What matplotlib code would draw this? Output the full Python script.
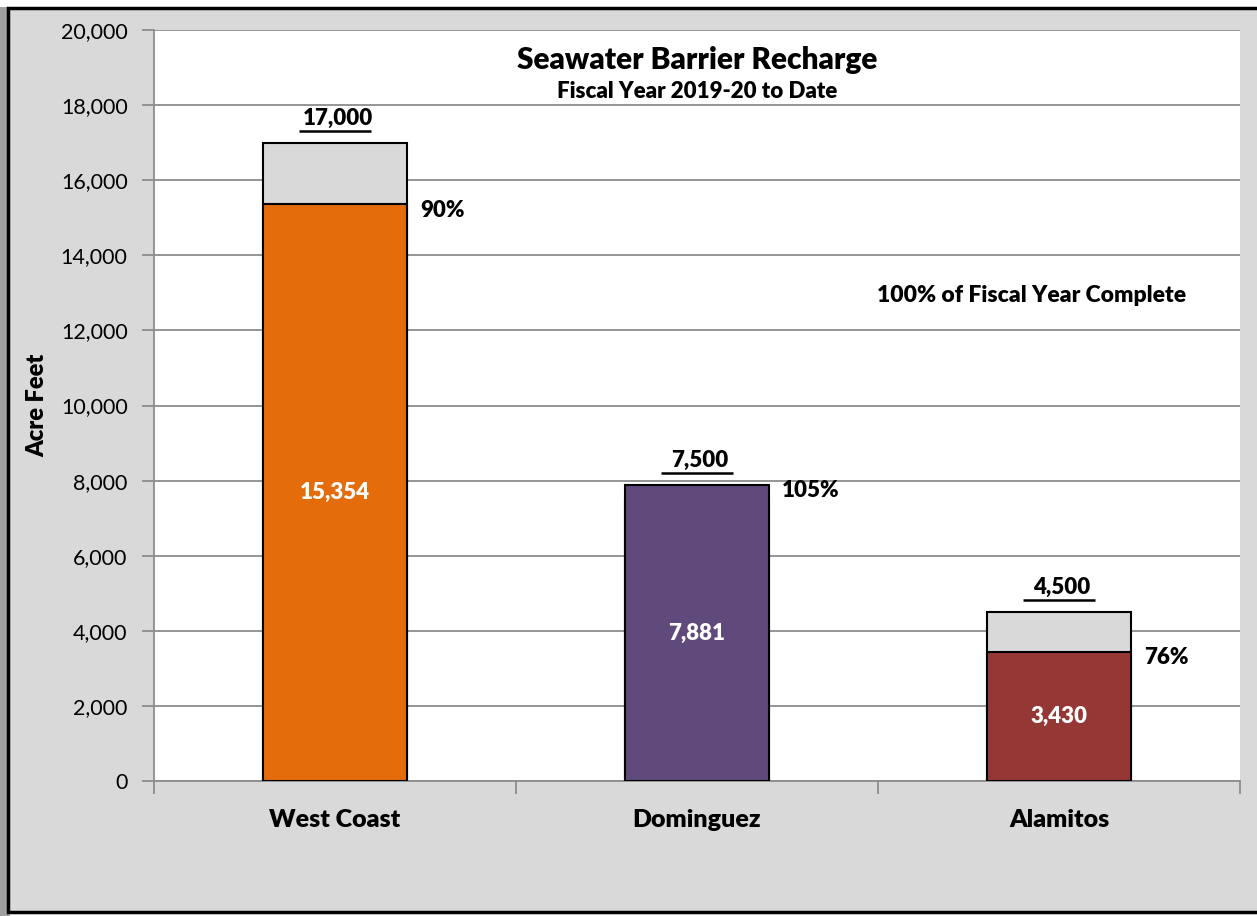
import matplotlib
matplotlib.use("Agg")
import matplotlib.pyplot as plt
from matplotlib.patches import Rectangle
from matplotlib.transforms import offset_copy

plt.rcParams['font.family'] = ['Lato', 'DejaVu Sans']

# Seawater barrier recharge, acre feet
barriers = ["West Coast", "Dominguez", "Alamitos"]
targets = [17000, 7500, 4500]
actuals = [15354, 7881, 3430]
percents = ["90%", "105%", "76%"]
colors = ["#E46C0A", "#604A7B", "#953735"]
y_ticks = [0, 2000, 4000, 6000, 8000, 10000, 12000, 14000, 16000, 18000, 20000]

BG = "#D9D9D9"
GRID = "#8C8C8C"
W = "heavy"


def main():
  fig = plt.figure(figsize=(12.57, 9.16), dpi=100)
  fig.patch.set_facecolor("white")
  # drop shadow on the left and framed chart background
  fig.patches.append(Rectangle((0, 0), 0.008, 0.992, transform=fig.transFigure,
                               facecolor="#A0A0A0", edgecolor="none", zorder=0))
  fig.patches.append(Rectangle((0.0064, 0.004), 1.0, 0.987, transform=fig.transFigure,
                               facecolor=BG, edgecolor="black", linewidth=2.5, zorder=1))

  ax = fig.add_axes([0.1225, 0.1474, 0.864, 0.8198])
  ax.set_facecolor("white")
  ax.set_zorder(2)

  x = list(range(len(barriers)))
  width = 0.4
  ax.bar(x, targets, width=width, color=BG, edgecolor="black", linewidth=1.5, zorder=3)
  ax.bar(x, actuals, width=width, color=colors, edgecolor="black", linewidth=1.5, zorder=4)

  under = offset_copy(ax.transData, fig=fig, y=8.5, units="points")
  for i in x:
    top = max(targets[i], actuals[i])
    # target label, underlined
    ax.annotate("{:,}".format(targets[i]), (i, top), xytext=(2, 10), textcoords="offset points",
                ha="center", va="bottom", fontsize=16, fontweight=W, zorder=5)
    ax.plot([i - 0.1, i + 0.1], [top, top], color="black", lw=1.8, transform=under,
            solid_capstyle="butt", zorder=5)
    # percent of target
    ax.annotate(percents[i], (i + width / 2, actuals[i]), xytext=(9, -4), textcoords="offset points",
                ha="left", va="center", fontsize=16, fontweight=W, zorder=5)
    # actual value inside bar
    ax.text(i, actuals[i] / 2, "{:,}".format(actuals[i]), ha="center", va="center",
            fontsize=16, fontweight=W, color="white", zorder=5)

  ax.set_xlim(-0.5, len(barriers) - 0.5)
  ax.set_ylim(0, 20000)
  ax.set_yticks(y_ticks)
  ax.set_yticklabels(["{:,}".format(v) for v in y_ticks], fontsize=15.5)
  ax.yaxis.grid(True, color=GRID, linewidth=1.3, zorder=0)
  ax.set_axisbelow(True)

  ax.set_xticks(x)
  ax.set_xticklabels(barriers, fontsize=18, fontweight=W)
  ax.tick_params(axis="x", length=0, pad=20)
  ax.set_xticks([-0.5, 0.5, 1.5, 2.5], minor=True)
  ax.tick_params(axis="x", which="minor", length=9, width=1.3, color=GRID, direction="out")
  ax.tick_params(axis="y", length=9, width=1.3, color=GRID, direction="out", pad=10)

  for side in ["top", "right"]:
    ax.spines[side].set_visible(False)
  for side in ["left", "bottom"]:
    ax.spines[side].set_color(GRID)
    ax.spines[side].set_linewidth(1.3)

  ax.set_ylabel("Acre Feet", fontsize=17, fontweight=W, labelpad=9)

  ax.text(0.5, 0.979, "Seawater Barrier Recharge", transform=ax.transAxes, ha="center", va="top",
          fontsize=21.5, fontweight=W)
  ax.text(0.5, 0.932, "Fiscal Year 2019-20 to Date", transform=ax.transAxes, ha="center", va="top",
          fontsize=16, fontweight=W)
  ax.text(0.808, 0.646, "100% of Fiscal Year Complete", transform=ax.transAxes, ha="center", va="center",
          fontsize=16.5, fontweight=W)

  fig.savefig("out.png", dpi=100, facecolor=fig.get_facecolor())


if __name__ == "__main__":
  main()
